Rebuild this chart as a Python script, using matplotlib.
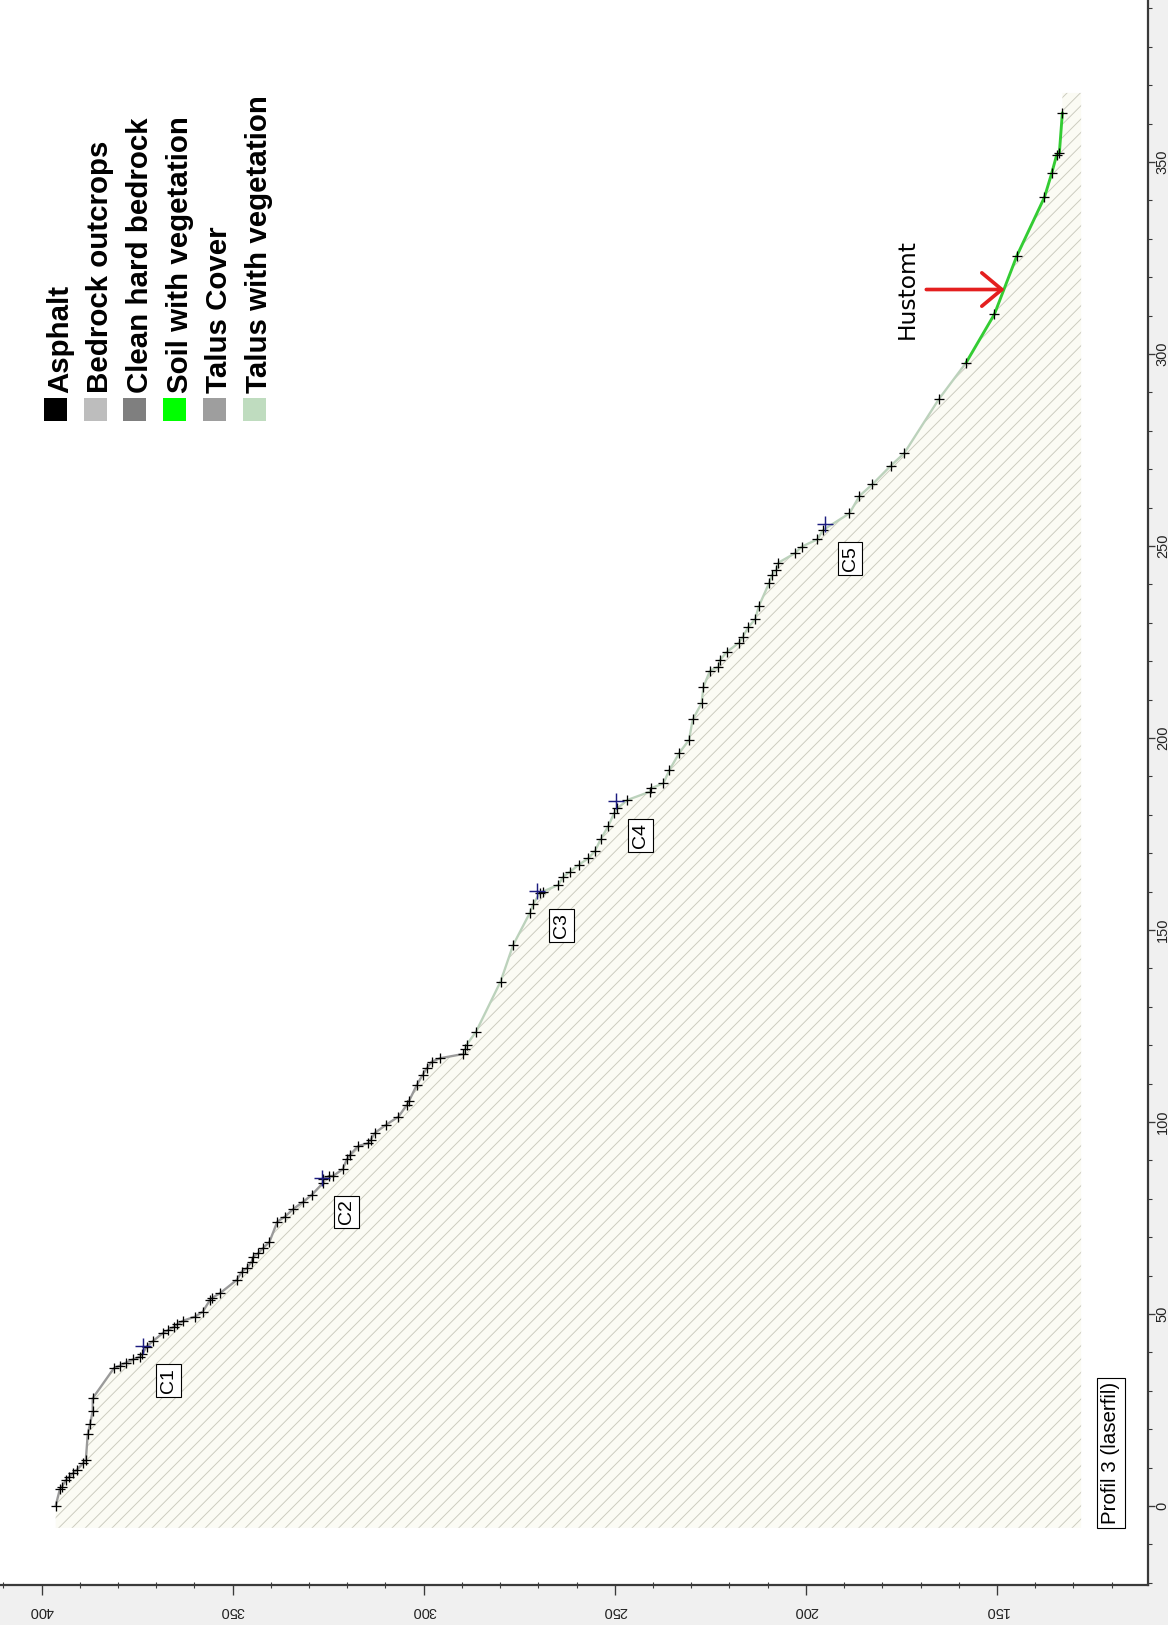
import matplotlib
matplotlib.use("Agg")
import matplotlib.pyplot as plt
import numpy as np
from matplotlib.patches import Polygon, Rectangle
from matplotlib.ticker import MultipleLocator

plt.rcParams["font.family"] = ["Liberation Sans", "DejaVu Sans"]
plt.rcParams["hatch.linewidth"] = 0.85

# Laser profile 3: elevation (m a.s.l.) against distance along the line (m)
elevation = [
    396.3, 395.2, 394.7, 393.6, 392.7, 391.8, 390.8, 389.1, 388.4, 387.9,
    387.3, 386.6, 386.6, 381.0, 379.5, 377.9, 376.0, 374.2, 373.6, 372.5,
    370.7, 368.1, 366.8, 365.3, 364.5, 362.9, 359.8, 357.8, 355.9, 355.5,
    353.3, 348.9, 347.6, 346.3, 345.0, 344.6, 343.3, 342.1, 340.4, 338.3,
    336.3, 334.1, 331.5, 329.3, 326.4, 326.3, 324.7, 323.7, 321.2, 320.1,
    319.3, 317.1, 314.5, 313.9, 312.7, 309.9, 306.6, 304.4, 303.8, 301.8,
    300.3, 299.2, 297.9, 295.7, 289.6, 289.2, 288.8, 286.3, 279.9, 276.6,
    272.2, 271.3, 269.6, 268.9, 264.8, 263.5, 261.7, 259.5, 256.9, 255.2,
    253.7, 251.7, 250.2, 249.3, 246.7, 240.8, 240.5, 237.3, 235.7, 233.1,
    230.6, 229.6, 227.3, 226.8, 225.1, 222.9, 222.5, 220.6, 217.5, 216.5,
    215.1, 213.3, 212.3, 209.6, 208.9, 207.8, 207.2, 202.9, 201.1, 197.0,
    195.5, 188.6, 186.0, 182.6, 177.8, 174.3, 165.2, 158.1, 150.7, 144.8,
    137.6, 135.7, 134.4, 133.7, 132.9,
]
distance = [
    0.0, 4.35, 4.87, 6.77, 7.63, 8.52, 9.37, 11.12, 11.98, 18.75,
    21.35, 24.74, 28.05, 35.94, 36.54, 37.32, 38.20, 38.88, 39.58, 41.48,
    43.05, 45.13, 45.83, 46.69, 47.32, 48.25, 49.30, 50.60, 53.65, 54.09,
    55.39, 58.85, 61.02, 61.90, 63.62, 64.92, 65.81, 67.11, 68.67, 74.04,
    75.34, 77.34, 79.24, 80.99, 84.04, 85.08, 85.94, 85.94, 87.68, 90.29,
    91.41, 93.75, 94.45, 95.31, 97.21, 99.22, 101.38, 104.43, 105.55, 109.64,
    112.24, 113.98, 115.70, 116.59, 117.71, 118.93, 120.05, 123.52, 136.54, 146.09,
    154.51, 156.77, 159.71, 159.97, 161.72, 163.88, 165.18, 166.93, 168.67, 170.57,
    173.62, 177.08, 180.39, 181.69, 183.85, 186.02, 186.90, 188.20, 191.67, 196.17,
    199.48, 204.87, 209.04, 213.36, 217.53, 218.57, 220.31, 222.47, 224.82, 226.38,
    228.83, 230.91, 234.38, 240.44, 242.45, 243.75, 245.65, 248.10, 249.82, 251.74,
    254.17, 258.51, 263.02, 266.07, 270.91, 274.14, 288.28, 297.73, 310.34, 325.60,
    340.81, 347.06, 351.82, 352.27, 362.84,
]

# Ground section drawn under the surface
section_base = 128.0
section_from = -5.7
section_to = 368.0

# Mapped surface cover along the profile (distance intervals)
cover_start = [0.0, 117.71, 297.73]
cover_end = [117.71, 297.73, 362.84]
cover_class = ["Talus Cover", "Talus with vegetation", "Soil with vegetation"]

# Core sample locations
core_labels = ["C1", "C2", "C3", "C4", "C5"]
core_elevation = [373.4, 326.7, 270.4, 249.8, 195.0]
core_distance = [41.7, 85.5, 160.2, 183.6, 255.7]

# Building plot marker
plot_label = "Hustomt"
plot_elevation = 148.0
plot_distance = 316.8

profile_title = "Profil 3 (laserfil)"

legend_labels = ["Asphalt", "Bedrock outcrops", "Clean hard bedrock",
                 "Soil with vegetation", "Talus Cover", "Talus with vegetation"]
legend_colors = ["#000000", "#bdbdbd", "#7f7f7f", "#00ff00", "#9e9e9e", "#bfdcbf"]
line_colors = {"Talus Cover": "#9a9a9a",
               "Talus with vegetation": "#bcd2bc",
               "Soil with vegetation": "#33cc33"}

W, H, DPI = 1168, 1625, 80
fig = plt.figure(figsize=(W / DPI, H / DPI), dpi=DPI, facecolor="#f0f0f0")
ax = fig.add_axes([0, 40 / H, 1148 / W, 1585 / H])
ax.set_facecolor("white")
ax.set_xlim(410.86, 110.5)
ax.set_ylim(-20.6, 392.2)

z = np.array(elevation)
d = np.array(distance)

# hatched ground section
xs = [z[0]] + list(z) + [z[-1], section_base, section_base]
ys = [section_from] + list(d) + [section_to, section_to, section_from]
ax.add_patch(Polygon(np.column_stack([xs, ys]), closed=True,
                     facecolor="#fbfbf4", edgecolor="#cbcbbf",
                     hatch="//", linewidth=0, zorder=1))

# surface line coloured by cover class
for s, e, c in zip(cover_start, cover_end, cover_class):
    m = (d >= s - 1e-6) & (d <= e + 1e-6)
    lw = 2.6 if c == "Soil with vegetation" else 2.1
    ax.plot(z[m], d[m], color=line_colors[c], lw=lw, zorder=3,
            solid_capstyle="round")

# survey points
ax.plot(z, d, "+", color="black", ms=8.5, mew=1.15, zorder=4)

# core samples and their labels
ax.plot(core_elevation, core_distance, "+", color="#1c1c80", ms=15, mew=1.3,
        zorder=5)
for lab, ce, cd in zip(core_labels, core_elevation, core_distance):
    ax.annotate(lab, xy=(ce, cd), xytext=(22.5, -31), textcoords="offset points",
                rotation=90, ha="center", va="center", fontsize=17.5,
                bbox=dict(boxstyle="square,pad=0.2", facecolor="white",
                          edgecolor="black", linewidth=1.0), zorder=6)

# building plot arrow
ax.annotate("", xy=(plot_elevation, plot_distance),
            xytext=(plot_elevation + 20.5, plot_distance),
            arrowprops=dict(arrowstyle="->,head_length=0.9,head_width=0.75",
                            color="#e41f1f", lw=3.3, mutation_scale=20,
                            shrinkA=0, shrinkB=0), zorder=6)
ax.text(plot_elevation + 25.6, plot_distance, plot_label, rotation=90,
        ha="center", va="center", fontsize=21, family=["DejaVu Sans"], zorder=6)

# profile name
ax.text(120.2, 13.8, profile_title, rotation=90, ha="center", va="center",
        fontsize=18.5, zorder=6,
        bbox=dict(boxstyle="square,pad=0.2", facecolor="white",
                  edgecolor="black", linewidth=1.0))

# axes styling
for side in ["left", "top"]:
    ax.spines[side].set_visible(False)
for side in ["right", "bottom"]:
    ax.spines[side].set_color("#3a3a3a")
    ax.spines[side].set_linewidth(2.0)

ax.yaxis.tick_right()
ax.xaxis.tick_bottom()
for axis in (ax.xaxis, ax.yaxis):
    axis.set_major_locator(MultipleLocator(50))
    axis.set_minor_locator(MultipleLocator(10))
ax.tick_params(which="both", colors="#3a3a3a")
ax.tick_params(axis="x", which="major", direction="out", length=9, width=1.2,
               pad=8, labelrotation=180, labelsize=13, labelcolor="#222222")
ax.tick_params(axis="x", which="minor", direction="inout", length=6, width=1.0)
ax.tick_params(axis="y", which="major", direction="out", length=6, width=1.2,
               pad=1, labelrotation=90, labelsize=13, labelcolor="#222222")
ax.tick_params(axis="y", which="minor", direction="out", length=3.5, width=1.0)
for lbl in ax.get_yticklabels():
    lbl.set_va("center")

# legend of surface classes
x0, step = 55.5, 39.7
for i, (lab, col) in enumerate(zip(legend_labels, legend_colors)):
    cx = x0 + i * step
    fig.patches.append(Rectangle(((cx - 11.5) / W, 1 - 421 / H), 23 / W, 23 / H,
                                 transform=fig.transFigure, facecolor=col,
                                 edgecolor="none"))
    fig.text((cx + 5) / W, 1 - 393 / H, lab, rotation=90, ha="center",
             va="bottom", fontsize=26.5, fontweight="bold", color="black")

fig.savefig("out.png", dpi=DPI, facecolor=fig.get_facecolor())
